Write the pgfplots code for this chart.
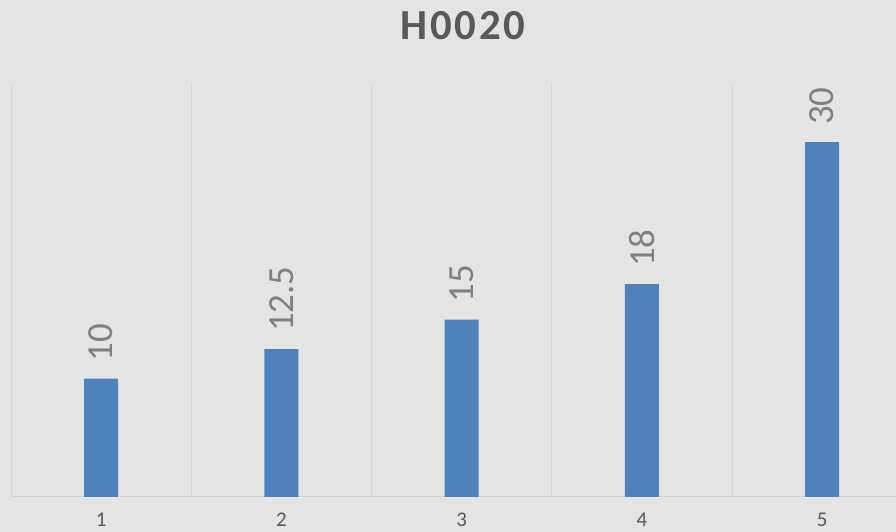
\documentclass[border=0pt]{standalone}
\usepackage{pgfplots}
\pgfplotsset{compat=1.18}
\usepackage{fontspec}
\setmainfont{Carlito}
\newfontfamily\titlefont[LetterSpace=6]{Carlito}
\definecolor{bgc}{HTML}{E4E4E4}
\definecolor{gridc}{HTML}{D6D6D6}
\definecolor{axisc}{HTML}{CFCFCF}
\definecolor{barc}{HTML}{4F81BD}
\definecolor{lblc}{HTML}{808080}
\definecolor{titlec}{HTML}{595959}
\definecolor{tickc}{HTML}{595959}
\begin{document}
\begin{tikzpicture}
\fill[bgc] (0,0) rectangle (896bp,532bp);
\useasboundingbox (0,0) rectangle (896bp,532bp);
\node[text=titlec, font=\titlefont\fontsize{43}{43}\selectfont\bfseries, inner sep=0pt] at (463bp,506.5bp) {H0020};
\begin{axis}[
  at={(11bp,35bp)}, anchor=south west,
  scale only axis,
  width=885bp, height=414bp,
  xmin=0.5, xmax=5.41,
  ymin=0, ymax=35,
  axis x line*=bottom,
  axis y line=none,
  axis line style={draw=axisc, line width=1bp},
  xtick={1,2,3,4,5},
  xticklabels={1,2,3,4,5},
  major tick length=0pt,
  minor xtick={0.5,1.5,2.5,3.5,4.5},
  minor tick length=0pt,
  xminorgrids=true,
  minor grid style={draw=gridc, line width=0.8bp},
  xticklabel style={text=tickc, font=\fontsize{21}{21}\selectfont, inner sep=0pt, anchor=north, yshift=-16bp},
  /pgf/number format/assume math mode=true,
  ybar,
  bar width=34bp,
  nodes near coords,
  nodes near coords style={rotate=90, anchor=west, text=lblc, font=\fontsize{37}{37}\selectfont, inner xsep=17bp, inner ysep=0pt},
]
\addplot[fill=barc, draw=none] coordinates {(1,10) (2,12.5) (3,15) (4,18) (5,30)};
\end{axis}
\end{tikzpicture}
\end{document}
